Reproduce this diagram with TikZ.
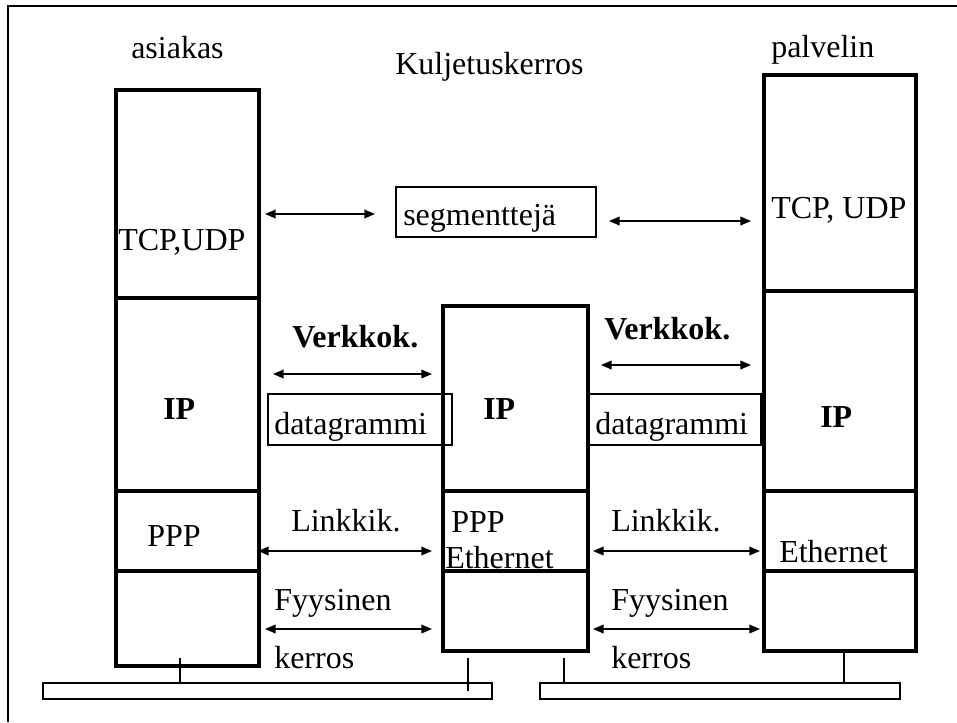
\documentclass[tikz,border=0pt]{standalone}
\usepackage{fontspec}
\setmainfont{Liberation Serif}
\usetikzlibrary{arrows.meta}
\begin{document}
\begin{tikzpicture}[x=0.75pt,y=-0.75pt,
  every node/.style={inner sep=0pt,anchor=base west,
    font=\fontsize{24pt}{29pt}\selectfont},
  boldlbl/.style={font=\fontsize{24pt}{29pt}\selectfont\bfseries},
  stack/.style={line width=2.5pt,line join=miter},
  pdu/.style={line width=1.3pt},
  bus/.style={line width=1.7pt},
  tick/.style={line width=1.4pt},
  frame/.style={line width=1.5pt},
  flow/.style={line width=1.1pt,{Triangle[length=8pt,width=6.5pt]}-{Triangle[length=8pt,width=6.5pt]}}]
\useasboundingbox (0,0) rectangle (957,722);

% outer frame
\draw[frame] (8,722) -- (8,6) -- (957,6);

% protocol stacks: client, router, server
\draw[stack] (116,90) rectangle (259,666);
\draw[stack] (116,298) -- (259,298);
\draw[stack] (116,491) -- (259,491);
\draw[stack] (116,571) -- (259,571);

\draw[stack] (443,306) rectangle (588,651);
\draw[stack] (443,491) -- (588,491);
\draw[stack] (443,571) -- (588,571);

\draw[stack] (764,75) rectangle (916,651);
\draw[stack] (764,291) -- (916,291);
\draw[stack] (764,491) -- (916,491);
\draw[stack] (764,571) -- (916,571);

% physical links
\draw[bus] (43,683) rectangle (492,699);
\draw[bus] (540,683) rectangle (900,699);
\draw[tick] (180,658) -- (180,683);
\draw[tick] (468,658) -- (468,691);
\draw[tick] (564,658) -- (564,683);
\draw[tick] (844,651) -- (844,683);

% titles
\node (client) at (131,58) {asiakas};
\node (transport) at (395,74) {Kuljetuskerros};
\node (server) at (771,57) {palvelin};

% layer names inside the stacks
\node (ctcp) at (118,250) {TCP,UDP};
\node (stcp) at (771,218) {TCP, UDP};
\node[boldlbl] (cip) at (163,419) {IP};
\node[boldlbl] (rip) at (483,419) {IP};
\node[boldlbl] (sip) at (820,427) {IP};
\node (cppp) at (147,546) {PPP};
\node (rppp) at (451,532) {PPP};
\node (reth) at (445,568) {Ethernet};
\node (seth) at (779,562) {Ethernet};

% data units
\draw[pdu] (396,187) rectangle (596,237);
\node (seg) at (403,225) {segmenttejä};
\draw[pdu] (268,394) rectangle (452,445);
\node (dg1) at (274,434) {datagrammi};
\draw[pdu] (588,394) rectangle (761,445);
\node (dg2) at (595,434) {datagrammi};

% layer labels between the stacks
\node[boldlbl] (net1) at (292,347) {Verkkok.};
\node[boldlbl] (net2) at (604,339) {Verkkok.};
\node (link1) at (291,531) {Linkkik.};
\node (link2) at (611,531) {Linkkik.};
\node (phy1) at (274,610) {Fyysinen};
\node (phy2) at (611,610) {Fyysinen};
\node (phy1b) at (274,668) {kerros};
\node (phy2b) at (611,668) {kerros};

% peer-to-peer arrows
\coordinate (t1a) at (265,214); \coordinate (t1b) at (375,214);
\coordinate (t2a) at (609,221); \coordinate (t2b) at (751,221);
\coordinate (n1a) at (273,374); \coordinate (n1b) at (432,374);
\coordinate (n2a) at (601,365); \coordinate (n2b) at (751,365);
\coordinate (l1a) at (258,551); \coordinate (l1b) at (432,551);
\coordinate (l2a) at (593,551); \coordinate (l2b) at (760,551);
\coordinate (p1a) at (265,629); \coordinate (p1b) at (432,629);
\coordinate (p2a) at (593,629); \coordinate (p2b) at (760,629);
\draw[flow] (t1a) -- (t1b);
\draw[flow] (t2a) -- (t2b);
\draw[flow] (n1a) -- (n1b);
\draw[flow] (n2a) -- (n2b);
\draw[flow] (l1a) -- (l1b);
\draw[flow] (l2a) -- (l2b);
\draw[flow] (p1a) -- (p1b);
\draw[flow] (p2a) -- (p2b);
\end{tikzpicture}
\end{document}
